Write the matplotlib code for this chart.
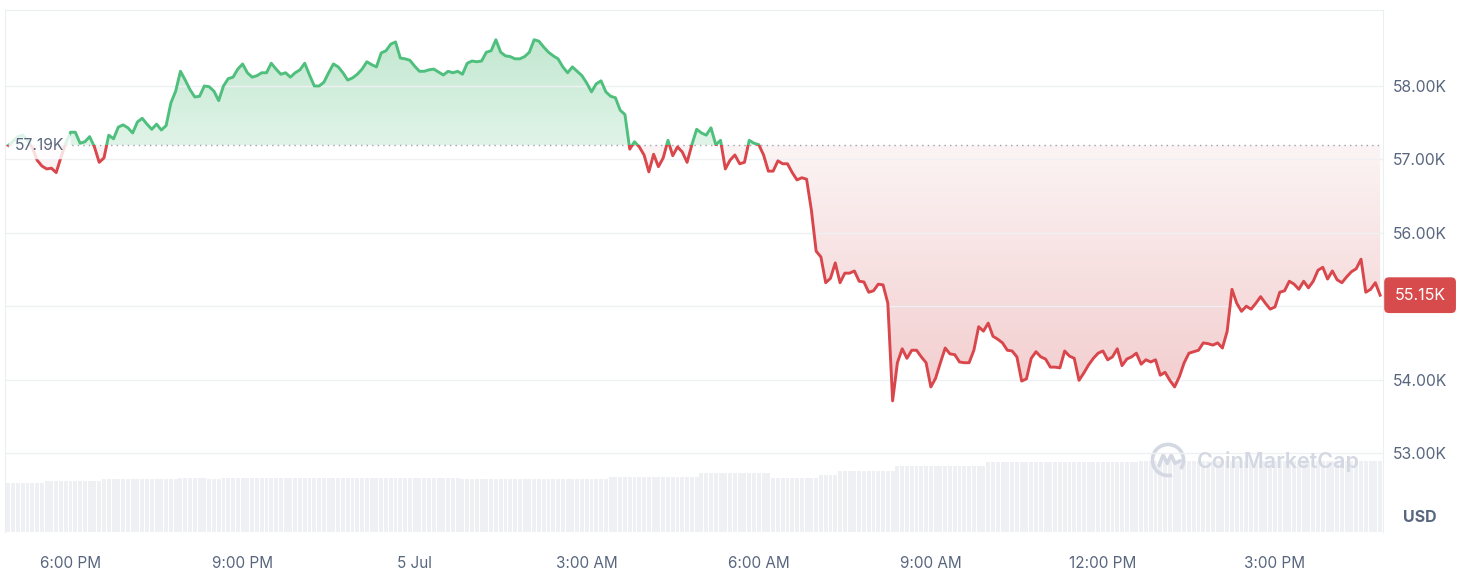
"""Recreate the CoinMarketCap-style 24h BTC price chart (green above open, red below)."""

import matplotlib

matplotlib.use("Agg")
import matplotlib.dates as mdates
import matplotlib.pyplot as plt
import numpy as np
import pandas as pd
from matplotlib.colors import LinearSegmentedColormap
from matplotlib.patches import Arc, Rectangle
from matplotlib.path import Path

plt.rcParams["font.family"] = ["Inter", "DejaVu Sans"]

# ---- data (price in thousands of USD, one sample every 5 minutes) ----
START = "2024-07-04 16:55"
price = [
    57.19, 57.25, 57.31, 57.33, 57.26, 57.16, 56.99, 56.91, 56.87, 56.88, 56.82, 57.03,
    57.22, 57.37, 57.37, 57.22, 57.24, 57.31, 57.17, 56.96, 57.02, 57.33, 57.28, 57.44,
    57.47, 57.43, 57.36, 57.51, 57.56, 57.48, 57.41, 57.48, 57.40, 57.46, 57.77, 57.93,
    58.20, 58.08, 57.95, 57.85, 57.86, 58.00, 57.99, 57.93, 57.80, 58.00, 58.10, 58.12,
    58.23, 58.30, 58.18, 58.12, 58.14, 58.18, 58.18, 58.31, 58.23, 58.16, 58.18, 58.12,
    58.18, 58.22, 58.31, 58.15, 58.00, 58.00, 58.05, 58.18, 58.30, 58.26, 58.18, 58.08,
    58.11, 58.16, 58.23, 58.33, 58.29, 58.26, 58.45, 58.48, 58.57, 58.60, 58.38, 58.37,
    58.35, 58.27, 58.20, 58.20, 58.22, 58.23, 58.19, 58.15, 58.20, 58.18, 58.20, 58.16,
    58.31, 58.34, 58.33, 58.34, 58.46, 58.48, 58.63, 58.46, 58.41, 58.40, 58.37, 58.37,
    58.40, 58.46, 58.63, 58.61, 58.53, 58.46, 58.41, 58.37, 58.26, 58.18, 58.26, 58.20,
    58.14, 58.04, 57.92, 58.03, 58.07, 57.92, 57.86, 57.84, 57.67, 57.61, 57.14, 57.24,
    57.17, 57.06, 56.83, 57.07, 56.90, 57.02, 57.26, 57.05, 57.17, 57.10, 56.96, 57.20,
    57.41, 57.36, 57.33, 57.43, 57.20, 57.26, 56.87, 56.99, 57.06, 56.94, 56.96, 57.26,
    57.22, 57.20, 57.06, 56.84, 56.84, 56.98, 56.94, 56.94, 56.82, 56.72, 56.75, 56.73,
    56.31, 55.75, 55.67, 55.32, 55.38, 55.59, 55.32, 55.45, 55.45, 55.48, 55.34, 55.33,
    55.19, 55.21, 55.30, 55.29, 55.04, 53.71, 54.23, 54.42, 54.29, 54.40, 54.40, 54.31,
    54.23, 53.90, 54.02, 54.23, 54.43, 54.35, 54.34, 54.24, 54.23, 54.23, 54.40, 54.72,
    54.66, 54.77, 54.59, 54.55, 54.50, 54.40, 54.39, 54.31, 53.98, 54.01, 54.29, 54.38,
    54.31, 54.28, 54.17, 54.17, 54.16, 54.39, 54.32, 54.29, 53.99, 54.09, 54.20, 54.29,
    54.36, 54.39, 54.27, 54.31, 54.42, 54.19, 54.28, 54.31, 54.36, 54.21, 54.27, 54.24,
    54.27, 54.06, 54.10, 53.99, 53.90, 54.04, 54.23, 54.36, 54.38, 54.40, 54.50, 54.49,
    54.47, 54.50, 54.43, 54.66, 55.23, 55.04, 54.93, 55.00, 54.96, 55.04, 55.13, 55.04,
    54.96, 54.99, 55.19, 55.21, 55.34, 55.30, 55.23, 55.34, 55.25, 55.34, 55.49, 55.53,
    55.37, 55.48, 55.36, 55.32, 55.40, 55.47, 55.51, 55.64, 55.19, 55.23, 55.32, 55.15,
]
open_price = 57.19

# volume bars (unlabelled in the source, relative units), stored as level / run length
volume_levels = [49, 51, 53, 54, 53, 54, 53, 55, 59, 54, 57, 61, 66, 70, 71]
volume_runs = [8, 12, 16, 6, 3, 50, 31, 19, 15, 10, 4, 12, 19, 32, 51]

tick_times = [
    "2024-07-04 18:00", "2024-07-04 21:00", "2024-07-05 00:00", "2024-07-05 03:00",
    "2024-07-05 06:00", "2024-07-05 09:00", "2024-07-05 12:00", "2024-07-05 15:00",
]
tick_labels = ["6:00 PM", "9:00 PM", "5 Jul", "3:00 AM", "6:00 AM", "9:00 AM", "12:00 PM", "3:00 PM"]
y_ticks = [53, 54, 55, 56, 57, 58]

GREEN = "#4fbf7d"
RED = "#d9464b"
TEXT = "#58667e"
GRID = "#eff0f3"

# ---- figure ----
fig = plt.figure(figsize=(14.7, 5.84), dpi=100)
ax = fig.add_axes([5 / 1470, 52 / 584, 1378 / 1470, 522 / 584])
ax_v = ax.twinx()

price = np.array(price)
t = mdates.date2num(pd.date_range(START, periods=len(price), freq="5min"))
step = t[1] - t[0]
x_lo, x_hi = t[0] - 0.71 * step, t[-1] + 0.6 * step

# volume, behind everything
vol = np.repeat(volume_levels, volume_runs)
ax_v.bar(t, vol, width=0.82 * step, color="#eef0f4", linewidth=0)
ax_v.set_ylim(0, max(volume_levels) / 0.136)
ax_v.set_yticks([])
for s in ax_v.spines.values():
    s.set_visible(False)
ax.set_zorder(ax_v.get_zorder() + 1)
ax.patch.set_visible(False)

# gradient fills, clipped to the area between the line and the open price
above = ax.fill_between(t, price, open_price, where=price >= open_price, interpolate=True,
                        facecolor="none", edgecolor="none")
below = ax.fill_between(t, price, open_price, where=price <= open_price, interpolate=True,
                        facecolor="none", edgecolor="none")
grad = np.linspace(0, 1, 256).reshape(-1, 1)
cm_green = LinearSegmentedColormap.from_list("g", ["#e0f4e8", "#c3e8d1"])
cm_red = LinearSegmentedColormap.from_list("r", ["#f2cccd", "#fcf4f4"])
img_g = ax.imshow(grad, extent=[x_lo, x_hi, open_price, price.max()], origin="lower",
                  cmap=cm_green, aspect="auto", zorder=1)
img_g.set_clip_path(Path.make_compound_path(*above.get_paths()), transform=ax.transData)
img_r = ax.imshow(grad, extent=[x_lo, x_hi, price.min(), open_price], origin="lower",
                  cmap=cm_red, aspect="auto", zorder=1)
img_r.set_clip_path(Path.make_compound_path(*below.get_paths()), transform=ax.transData)

# open-price reference line
ax.axhline(open_price, color="#9ba1ab", linewidth=1, linestyle=(0, (1, 3)), zorder=2)

# price line: green part clipped above the open, red part below
(line_g,) = ax.plot(t, price, color=GREEN, linewidth=2.1, zorder=3, solid_joinstyle="round")
line_g.set_clip_path(Rectangle((x_lo, open_price), x_hi - x_lo, 20, transform=ax.transData))
(line_r,) = ax.plot(t, price, color=RED, linewidth=2.1, zorder=3, solid_joinstyle="round")
line_r.set_clip_path(Rectangle((x_lo, open_price - 20), x_hi - x_lo, 20, transform=ax.transData))

# axes styling
ax.set_xlim(x_lo, x_hi)
ax.set_ylim(51.924, 59.035)
ax_v.set_xlim(x_lo, x_hi)
ax.set_yticks(y_ticks)
ax.set_yticklabels([f"{v:.2f}K" for v in y_ticks])
ax.yaxis.tick_right()
ax.grid(True, axis="y", color=GRID, linewidth=1)
ax.set_xticks(mdates.date2num(pd.to_datetime(tick_times)))
ax.set_xticklabels(tick_labels)
ax.tick_params(axis="x", length=0, pad=17, labelsize=11, colors=TEXT)
ax.tick_params(axis="y", length=0, pad=7, labelsize=11.3, colors=TEXT)
for side in ("left", "right", "top"):
    ax.spines[side].set_color("#eceef1")
ax.spines["bottom"].set_visible(False)

# open-price label on the left
ax.text(10 / 1378, open_price, f"{open_price:.2f}K", transform=ax.get_yaxis_transform(),
        ha="left", va="center", fontsize=11.3, color=TEXT, zorder=5,
        bbox=dict(boxstyle="round,pad=0.4", fc="white", ec="none", alpha=0.82))

# last price badge on the right
ax.text(1.0269, price[-1], f"{price[-1]:.2f}K", transform=ax.get_yaxis_transform(),
        ha="center", va="center", fontsize=11.5, color="white", zorder=6, clip_on=False,
        bbox=dict(boxstyle="round,pad=0.65,rounding_size=0.3", fc="#d84b4c", ec="none"))

fig.text(1420 / 1470, 1 - 518 / 584, "USD", ha="center", va="center",
         fontsize=11.5, fontweight="bold", color=TEXT)

# watermark
WM = "#d3d8e2"
fig.text(1197 / 1470, 1 - 461 / 584, "CoinMarketCap", ha="left", va="center",
         fontsize=15.5, fontweight="semibold", color=WM)
ax_logo = fig.add_axes([1150 / 1470, 1 - 478 / 584, 36 / 1470, 36 / 584])
ax_logo.set_xlim(-1.1, 1.1)
ax_logo.set_ylim(-1.1, 1.1)
ax_logo.axis("off")
ax_logo.add_patch(Arc((0, 0), 1.9, 1.9, theta1=-35, theta2=285, color=WM, linewidth=2.6))
ax_logo.plot([-0.55, -0.3, -0.05, 0.2, 0.42, 0.75], [-0.35, 0.3, -0.2, 0.3, -0.2, -0.05],
             color=WM, linewidth=2.6, solid_joinstyle="round", solid_capstyle="round")

fig.savefig("out.png", dpi=100)
